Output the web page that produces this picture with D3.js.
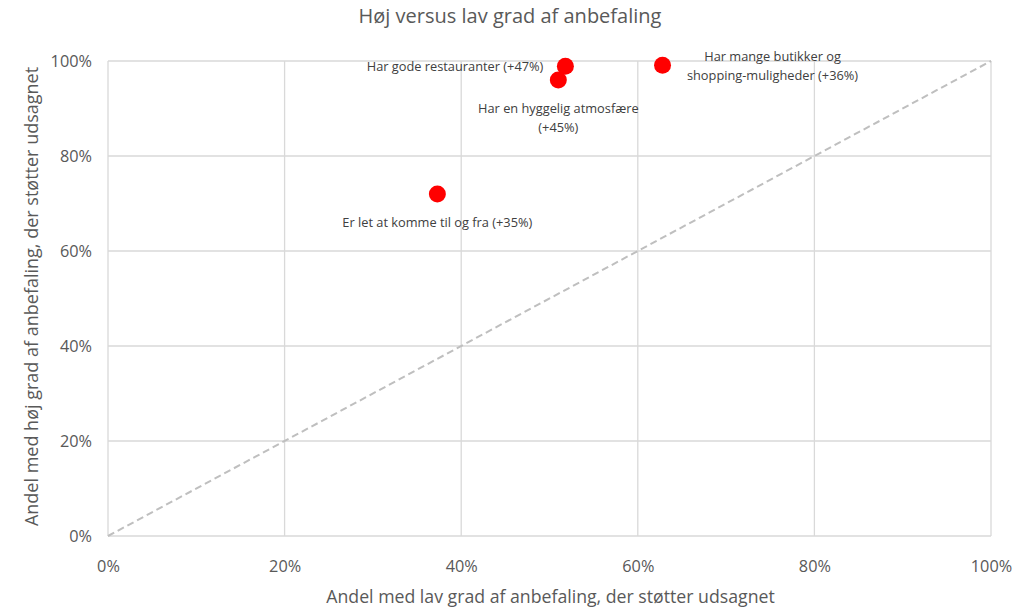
<!DOCTYPE html>
<html>
<head>
<meta charset="utf-8">
<script src="https://cdn.jsdelivr.net/npm/d3@7"></script>
<style>
  body { margin: 0; background: #fff; }
  text { font-family: "Open Sans", "Noto Sans", sans-serif; }
</style>
</head>
<body>
<script>
// data
var statements = ["Har gode restauranter", "Har en hyggelig atmosfære", "Har mange butikker og shopping-muligheder", "Er let at komme til og fra"];
var lowShare = [0.518, 0.510, 0.628, 0.373];
var highShare = [0.989, 0.960, 0.991, 0.720];
var diffs = ["+47%", "+45%", "+36%", "+35%"];
var ticks = [0, 0.2, 0.4, 0.6, 0.8, 1];

// how each label is placed around its dot
var labelLines = [
    ["Har gode restauranter (+47%)"],
    ["Har en hyggelig atmosfære", "(+45%)"],
    ["Har mange butikker og", "shopping-muligheder (+36%)"],
    ["Er let at komme til og fra (+35%)"]
];
var labelSide = ["left", "below", "right", "below"];

var W = 1028, H = 609;
var margin = { top: 61, right: 37, bottom: 73, left: 108 };
var width = W - margin.left - margin.right;
var height = H - margin.top - margin.bottom;

var x = d3.scaleLinear().domain([0, 1]).range([0, width]);
var y = d3.scaleLinear().domain([0, 1]).range([height, 0]);

var svg = d3.select("body").append("svg")
    .attr("width", W).attr("height", H);

svg.append("text")
    .attr("x", 510).attr("y", 23)
    .attr("text-anchor", "middle")
    .attr("font-size", 20).attr("fill", "#595959")
    .text("Høj versus lav grad af anbefaling");

var g = svg.append("g")
    .attr("transform", "translate(" + margin.left + "," + margin.top + ")");

// gridlines
g.selectAll(".hgrid").data(ticks).enter().append("line")
    .attr("x1", 0).attr("x2", width)
    .attr("y1", d => y(d)).attr("y2", d => y(d))
    .attr("stroke", "#d9d9d9").attr("stroke-width", 1.3);
g.selectAll(".vgrid").data(ticks).enter().append("line")
    .attr("y1", 0).attr("y2", height)
    .attr("x1", d => x(d)).attr("x2", d => x(d))
    .attr("stroke", "#d9d9d9").attr("stroke-width", 1.3);

// axes (labels only)
var fmt = d3.format(".0%");
var xAxis = g.append("g")
    .attr("transform", "translate(0," + height + ")")
    .call(d3.axisBottom(x).tickValues(ticks).tickFormat(fmt).tickSize(0).tickPadding(24));
var yAxis = g.append("g")
    .call(d3.axisLeft(y).tickValues(ticks).tickFormat(fmt).tickSize(0).tickPadding(16));
[xAxis, yAxis].forEach(function(a) {
    a.select(".domain").remove();
    a.selectAll("text")
        .attr("font-family", "'Open Sans', 'Noto Sans', sans-serif")
        .attr("font-size", 16.3).attr("fill", "#595959");
});

// diagonal reference line
g.append("line")
    .attr("x1", x(0)).attr("y1", y(0))
    .attr("x2", x(1)).attr("y2", y(1))
    .attr("stroke", "#bfbfbf").attr("stroke-width", 2)
    .attr("stroke-dasharray", "7 4");

// axis titles
svg.append("text")
    .attr("x", margin.left + width / 2 + 1).attr("y", 603)
    .attr("text-anchor", "middle")
    .attr("font-size", 17.7).attr("fill", "#595959")
    .text("Andel med lav grad af anbefaling, der støtter udsagnet");
svg.append("text")
    .attr("transform", "translate(38," + (margin.top + height / 2 - 2) + ") rotate(-90)")
    .attr("text-anchor", "middle")
    .attr("font-size", 18).attr("fill", "#595959")
    .text("Andel med høj grad af anbefaling, der støtter udsagnet");

// points
var pts = statements.map(function(s, i) {
    return { name: s, lx: lowShare[i], hy: highShare[i], diff: diffs[i], lines: labelLines[i], side: labelSide[i] };
});

g.selectAll("circle.pt").data(pts).enter().append("circle")
    .attr("class", "pt")
    .attr("cx", d => x(d.lx)).attr("cy", d => y(d.hy))
    .attr("r", 8.5).attr("fill", "#ff0000");

// labels
var lab = g.selectAll("text.lab").data(pts).enter().append("text")
    .attr("class", "lab")
    .attr("font-size", 12.8).attr("fill", "#404040")
    .attr("text-anchor", d => d.side == "left" ? "end" : "middle")
    .attr("transform", function(d) {
        var px = x(d.lx), py = y(d.hy);
        if (d.side == "left") return "translate(" + (px - 22) + "," + (py + 5) + ")";
        if (d.side == "right") return "translate(" + (px + 110) + "," + (py - 4) + ")";
        return "translate(" + px + "," + (py + 33) + ")";
    });
lab.selectAll("tspan").data(d => d.lines).enter().append("tspan")
    .attr("x", 0).attr("dy", (d, i) => i == 0 ? 0 : 19)
    .text(d => d);
</script>
</body>
</html>
